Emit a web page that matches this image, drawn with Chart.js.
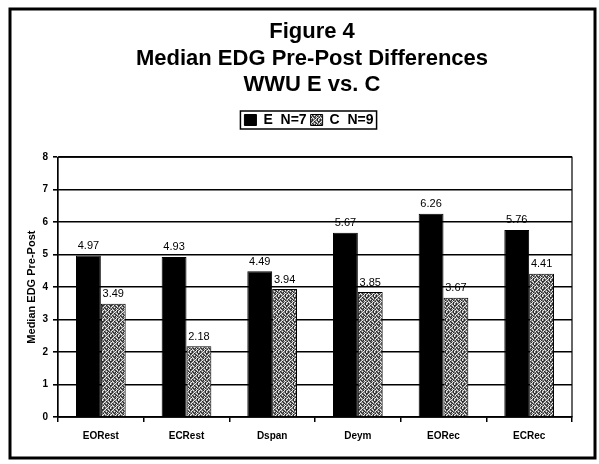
<!DOCTYPE html>
<html>
<head>
<meta charset="utf-8">
<script src="https://cdn.jsdelivr.net/npm/chart.js@4.4.0/dist/chart.umd.min.js"></script>
<style>
  html, body { margin: 0; padding: 0; background: #fff; }
  #wrap { position: relative; width: 599px; height: 464px; }
</style>
</head>
<body>
<div id="wrap"><canvas id="chart" width="599" height="464"></canvas></div>
<script>
'use strict';

var categories = ['EORest', 'ECRest', 'Dspan', 'Deym', 'EORec', 'ECRec'];
var valuesE = [4.97, 4.93, 4.49, 5.67, 6.26, 5.76];
var valuesC = [3.49, 2.18, 3.94, 3.85, 3.67, 4.41];
var seriesNames = ['E  N=7', 'C  N=9'];
var titleLines = ['Figure 4', 'Median EDG Pre-Post Differences', 'WWU E vs. C'];
var yTitle = 'Median EDG Pre-Post';

var FONT = '"Liberation Sans", Arial, sans-serif';
var LEGEND_PAD = 4;
var LEGEND_FONT = 14;

// speckled gray fill, fixed map so it looks like the scanned screen
function makeStipple() {
    var map = [
        '#.:..#:.',
        '.:#.:.##',
        ':..#.:#.',
        '#.:.#..:',
        '.#.#:#..',
        ':.#..:.#',
        '.:.#:#.:',
        '#..:.#:.'
    ];
    var c = document.createElement('canvas');
    c.width = 8; c.height = 8;
    var g = c.getContext('2d');
    g.fillStyle = '#7c7c7c';
    g.fillRect(0, 0, 8, 8);
    for (var y = 0; y < 8; y++) {
        for (var x = 0; x < 8; x++) {
            var ch = map[y].charAt(x);
            if (ch === '#') { g.fillStyle = '#2a2a2a'; g.fillRect(x, y, 1, 1); }
            else if (ch === ':') { g.fillStyle = '#eeeeee'; g.fillRect(x, y, 1, 1); }
        }
    }
    return g.createPattern(c, 'repeat');
}

var ctx = document.getElementById('chart').getContext('2d');
var stipple = makeStipple();

// move title and legend to where the scan has them
var placePlugin = {
    id: 'place',
    afterLayout: function(chart) {
        var t = chart.titleBlock;
        if (t) {
            var th = t.bottom - t.top;
            t.top = 19; t.bottom = 19 + th;
            t.left = 22; t.right = 602;
        }
        var lg = chart.legend;
        if (lg) {
            var lh = lg.bottom - lg.top;
            var lw = lg.right - lg.left;
            lg.top = 109; lg.bottom = 109 + lh;
            lg.left = 309 - lw / 2; lg.right = 309 + lw / 2;
        }
    }
};

var framePlugin = {
    id: 'frame',
    beforeDraw: function(chart) {
        var c = chart.ctx;
        c.save();
        c.fillStyle = '#fff';
        c.fillRect(0, 0, chart.width, chart.height);
        c.strokeStyle = '#000';
        c.lineWidth = 3;
        c.strokeRect(10, 9, 585, 449);
        c.restore();
    },
    afterDraw: function(chart) {
        var c = chart.ctx;
        var a = chart.chartArea;
        c.save();
        c.strokeStyle = '#000';
        c.lineWidth = 1.2;
        c.strokeRect(a.left, a.top, a.right - a.left, a.bottom - a.top);
        // box round the legend row
        var lg = chart.legend;
        if (lg && lg.lineWidths) {
            var rowW = lg.lineWidths[0];
            var startX = (lg.left + LEGEND_PAD + lg.right - rowW) / 2;
            var itemTop = lg.top + LEGEND_PAD;
            c.lineWidth = 1.5;
            c.strokeRect(startX - 4, itemTop - 2, rowW - LEGEND_PAD + 7, LEGEND_FONT + 4);
        }
        c.restore();
    }
};

var labelPlugin = {
    id: 'barLabels',
    afterDatasetsDraw: function(chart) {
        var c = chart.ctx;
        c.save();
        c.font = '11px ' + FONT;
        c.fillStyle = '#000';
        c.textAlign = 'center';
        c.textBaseline = 'bottom';
        chart.data.datasets.forEach(function(ds, i) {
            var meta = chart.getDatasetMeta(i);
            meta.data.forEach(function(bar, j) {
                c.fillText(ds.data[j].toFixed(2), bar.x, bar.y - 4);
            });
        });
        c.restore();
    }
};

new Chart(ctx, {
    type: 'bar',
    data: {
        labels: categories,
        datasets: [{
            label: seriesNames[0],
            data: valuesE,
            backgroundColor: '#000',
            borderColor: '#000',
            borderWidth: 1,
            categoryPercentage: 0.58,
            barPercentage: 1.0
        }, {
            label: seriesNames[1],
            data: valuesC,
            backgroundColor: stipple,
            borderColor: '#000',
            borderWidth: 1,
            categoryPercentage: 0.58,
            barPercentage: 1.0
        }]
    },
    plugins: [placePlugin, framePlugin, labelPlugin],
    options: {
        responsive: false,
        animation: false,
        devicePixelRatio: 1,
        layout: { padding: { left: 23, right: 27, top: 40, bottom: 12 } },
        plugins: {
            title: {
                display: true,
                text: titleLines,
                color: '#000',
                font: { family: FONT, size: 22, weight: 'bold', lineHeight: 1.2 },
                padding: { top: 0, bottom: 10 }
            },
            legend: {
                display: true,
                labels: {
                    color: '#000',
                    font: { family: FONT, size: LEGEND_FONT, weight: 'bold' },
                    boxWidth: 12,
                    boxHeight: 11,
                    padding: LEGEND_PAD,
                    generateLabels: function(chart) {
                        return chart.data.datasets.map(function(ds, i) {
                            return {
                                text: ds.label,
                                fillStyle: ds.backgroundColor,
                                strokeStyle: '#000',
                                lineWidth: 1,
                                datasetIndex: i
                            };
                        });
                    }
                }
            },
            tooltip: { enabled: false }
        },
        scales: {
            x: {
                offset: true,
                grid: {
                    offset: true,
                    drawOnChartArea: false,
                    drawTicks: true,
                    tickLength: 5,
                    color: '#000',
                    lineWidth: 1.5
                },
                border: { color: '#000', width: 1.5 },
                ticks: {
                    color: '#000',
                    font: { family: FONT, size: 10, weight: 'bold' },
                    padding: 8,
                    maxRotation: 0
                },
                afterFit: function(scale) { scale.height = 35; }
            },
            y: {
                min: 0,
                max: 8,
                ticks: {
                    stepSize: 1,
                    color: '#000',
                    font: { family: FONT, size: 10, weight: 'bold' },
                    padding: 5
                },
                grid: {
                    color: '#000',
                    lineWidth: 1.6,
                    drawTicks: true,
                    tickLength: 5
                },
                border: { color: '#000', width: 1.2 },
                title: {
                    display: true,
                    text: yTitle,
                    color: '#000',
                    font: { family: FONT, size: 11, weight: 'bold' },
                    padding: 2
                },
                afterFit: function(scale) { scale.width = 35; }
            }
        }
    }
});
</script>
</body>
</html>
